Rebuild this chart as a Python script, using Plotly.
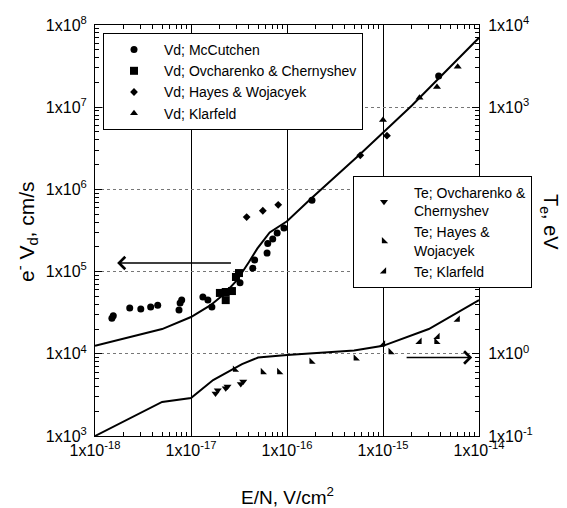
import numpy as np
import plotly.graph_objects as go

# ---------------- data ----------------
# Vd model curve (cm/s)
vd_line_x = [1e-18, 5e-18, 1e-17, 1.6e-17, 2.2e-17, 3e-17, 4e-17, 4.9e-17, 6.6e-17, 1e-16, 1.75e-16, 5.8e-16, 2e-15, 1e-14]
vd_line_y = [1.25e4, 2.0e4, 2.8e4, 3.9e4, 5.3e4, 7.8e4, 1.3e5, 1.9e5, 3.0e5, 4.1e5, 7.6e5, 2.7e6, 1.05e7, 7e7]
# Te model curve (eV)
te_line_x = [1e-18, 5e-18, 1e-17, 1.7e-17, 3.4e-17, 5e-17, 1e-16, 5e-16, 1e-15, 3e-15, 1e-14]
te_line_y = [0.1, 0.26, 0.29, 0.48, 0.75, 0.9, 0.97, 1.1, 1.25, 2.0, 4.5]

# Vd measurements
vd_mc_x = [1.5e-18, 1.55e-18, 2.3e-18, 3.0e-18, 3.8e-18, 4.5e-18, 7.5e-18, 7.7e-18, 8.0e-18,
           1.33e-17, 1.5e-17, 1.65e-17, 3.24e-17, 4.4e-17, 4.6e-17, 6.2e-17, 6.3e-17, 7.1e-17,
           7.9e-17, 9.3e-17, 1.82e-16, 3.8e-15]
vd_mc_y = [2.7e4, 2.9e4, 3.6e4, 3.5e4, 3.7e4, 3.9e4, 3.4e4, 4.15e4, 4.5e4,
           4.9e4, 4.5e4, 3.7e4, 7.3e4, 1.1e5, 1.38e5, 1.68e5, 2.2e5, 2.5e5,
           2.95e5, 3.4e5, 7.4e5, 2.4e7]
vd_ov_x = [2.0e-17, 2.3e-17, 2.3e-17, 2.67e-17, 2.94e-17, 3.16e-17]
vd_ov_y = [5.5e4, 5.65e4, 4.5e4, 5.8e4, 8.6e4, 9.6e4]
vd_hw_x = [3.8e-17, 5.6e-17, 8.1e-17, 5.8e-16, 1.1e-15]
vd_hw_y = [4.6e5, 5.5e5, 6.5e5, 2.6e6, 4.5e6]
vd_kl_x = [1.0e-15, 2.4e-15, 3.65e-15, 6.0e-15]
vd_kl_y = [7.0e6, 1.3e7, 1.76e7, 3.1e7]

# Te measurements
te_ov_x = [1.8e-17, 1.9e-17, 2.3e-17, 2.4e-17, 3.3e-17, 3.5e-17]
te_ov_y = [0.33, 0.36, 0.38, 0.40, 0.43, 0.46]
te_hw_x = [2.87e-17, 5.6e-17, 8.3e-17, 1.8e-16, 5.2e-16, 1.2e-15, 3.6e-15]
te_hw_y = [0.64, 0.60, 0.60, 0.80, 0.88, 1.05, 1.4]
te_kl_x = [1.0e-15, 2.4e-15, 3.7e-15, 6.0e-15]
te_kl_y = [1.3, 1.4, 1.6, 2.6]

x_tick_vals = [1e-18, 1e-17, 1e-16, 1e-15, 1e-14]
x_tick_text = ["1x10<sup>-18</sup>", "1x10<sup>-17</sup>", "1x10<sup>-16</sup>", "1x10<sup>-15</sup>", "1x10<sup>-14</sup>"]
y_tick_vals = [1e3, 1e4, 1e5, 1e6, 1e7, 1e8]
y_tick_text = ["1x10<sup>3</sup>", "1x10<sup>4</sup>", "1x10<sup>5</sup>", "1x10<sup>6</sup>", "1x10<sup>7</sup>", "1x10<sup>8</sup>"]
# right axis: the 1e1 and 1e2 labels are hidden behind the Te legend in the original
y2_tick_vals = [1e-1, 1e0, 1e1, 1e2, 1e3, 1e4]
y2_tick_text = ["1x10<sup>-1</sup>", "1x10<sup>0</sup>", "", "", "1x10<sup>3</sup>", "1x10<sup>4</sup>"]

# ---------------- figure ----------------
FONT = "Arial, Liberation Sans, sans-serif"
W, H = 567, 508
ML, MR, MT, MB = 95, 88, 25, 72
PW, PH = W - ML - MR, H - MT - MB

def px2paper(px, py):
    return (px - ML) / PW, (H - MB - py) / PH

fig = go.Figure()

fig.add_trace(go.Scatter(x=vd_line_x, y=vd_line_y, mode="lines", line=dict(color="black", width=2),
                         showlegend=False))
fig.add_trace(go.Scatter(x=te_line_x, y=te_line_y, mode="lines", line=dict(color="black", width=2),
                         showlegend=False, yaxis="y2"))

mk = dict(color="black")
fig.add_trace(go.Scatter(x=vd_mc_x, y=vd_mc_y, mode="markers", name="Vd; McCutchen",
                         marker=dict(symbol="circle", size=7, **mk), legend="legend"))
fig.add_trace(go.Scatter(x=vd_ov_x, y=vd_ov_y, mode="markers",
                         name="Vd; Ovcharenko &amp; Chernyshev",
                         marker=dict(symbol="square", size=8, **mk), legend="legend"))
fig.add_trace(go.Scatter(x=vd_hw_x, y=vd_hw_y, mode="markers", name="Vd; Hayes &amp; Wojacyek",
                         marker=dict(symbol="diamond", size=6, **mk), legend="legend"))
fig.add_trace(go.Scatter(x=vd_kl_x, y=vd_kl_y, mode="markers", name="Vd; Klarfeld",
                         marker=dict(symbol="triangle-up", size=7, **mk), legend="legend"))

fig.add_trace(go.Scatter(x=te_ov_x, y=te_ov_y, mode="markers",
                         name="Te; Ovcharenko &amp;<br>Chernyshev",
                         marker=dict(symbol="triangle-down", size=7, **mk), yaxis="y2", legend="legend2"))
fig.add_trace(go.Scatter(x=te_hw_x, y=te_hw_y, mode="markers", name="Te; Hayes &amp;<br>Wojacyek",
                         marker=dict(symbol="triangle-sw", size=7, **mk), yaxis="y2", legend="legend2"))
fig.add_trace(go.Scatter(x=te_kl_x, y=te_kl_y, mode="markers", name="Te; Klarfeld",
                         marker=dict(symbol="triangle-se", size=7, **mk), yaxis="y2", legend="legend2"))

def minor_vals(lo, hi):
    return [m * 10.0 ** e for e in range(lo, hi) for m in range(2, 10)]

tickfont = dict(family=FONT, size=16, color="black")

fig.update_layout(
    width=W, height=H,
    margin=dict(l=ML, r=MR, t=MT, b=MB, autoexpand=False),
    paper_bgcolor="white", plot_bgcolor="white",
    font=dict(family=FONT, color="black"),
    xaxis=dict(type="log", range=[-18, -14], tickmode="array", tickvals=x_tick_vals, ticktext=x_tick_text,
               tickfont=tickfont, ticks="inside", ticklen=7, tickcolor="black", showline=True,
               linecolor="black", linewidth=1, mirror="ticks", automargin=False,
               showgrid=True, gridcolor="black", gridwidth=1,
               minor=dict(tickmode="array", tickvals=minor_vals(-18, -14), ticks="inside", ticklen=4,
                          tickcolor="black", showgrid=False),
               zeroline=False),
    yaxis=dict(type="log", range=[3, 8], tickmode="array", tickvals=y_tick_vals, ticktext=y_tick_text,
               tickfont=tickfont, ticks="inside", ticklen=7, tickcolor="black", showline=True,
               linecolor="black", linewidth=1, ticklabelstandoff=4, automargin=False,
               showgrid=True, gridcolor="#777777", gridwidth=1, griddash="dot",
               minor=dict(tickmode="array", tickvals=minor_vals(3, 8), ticks="inside", ticklen=4,
                          tickcolor="black", showgrid=False),
               zeroline=False),
    yaxis2=dict(type="log", range=[-1, 4], overlaying="y", side="right", tickmode="array",
                tickvals=y2_tick_vals, ticktext=y2_tick_text, tickfont=tickfont,
                ticks="inside", ticklen=7, tickcolor="black", showline=True, linecolor="black",
                linewidth=1, showgrid=False, ticklabelstandoff=5, automargin=False,
                minor=dict(tickmode="array", tickvals=minor_vals(-1, 4), ticks="inside", ticklen=4,
                           tickcolor="black", showgrid=False),
                zeroline=False),
    legend=dict(x=px2paper(103, 33)[0], y=px2paper(103, 33)[1], xanchor="left", yanchor="top",
                bgcolor="white", bordercolor="black", borderwidth=1,
                font=dict(family=FONT, size=14, color="black"), tracegroupgap=0,
                itemwidth=50, itemsizing="trace"),
    legend2=dict(x=px2paper(353, 176)[0], y=px2paper(353, 176)[1], xanchor="left", yanchor="top",
                 bgcolor="white", bordercolor="black", borderwidth=1,
                 font=dict(family=FONT, size=14, color="black"), tracegroupgap=0,
                 itemwidth=50, itemsizing="trace"),
)

# arrows and titles
ann = []
ann.append(dict(x=np.log10(1.7e-18), y=np.log10(1.27e5), ax=np.log10(2.7e-17), ay=np.log10(1.27e5),
                xref="x", yref="y", axref="x", ayref="y", showarrow=True, arrowhead=4,
                arrowsize=1.6, arrowwidth=1.5, arrowcolor="black", text=""))
ann.append(dict(x=np.log10(8.5e-15), y=np.log10(0.9), ax=np.log10(1.7e-15), ay=np.log10(0.9),
                xref="x", yref="y2", axref="x", ayref="y2", showarrow=True, arrowhead=4,
                arrowsize=1.6, arrowwidth=1.5, arrowcolor="black", text=""))
tx, ty = px2paper(550, 222)
ann.append(dict(x=tx, y=ty, xref="paper", yref="paper", text="T<sub>e</sub>, eV", textangle=90,
                xanchor="center", yanchor="middle",
                showarrow=False, font=dict(family=FONT, size=20, color="black")))
lx, ly = px2paper(27, 232)
ann.append(dict(x=lx, y=ly, xref="paper", yref="paper", text="e<sup>-</sup> V<sub>d</sub>, cm/s",
                textangle=-90, xanchor="center", yanchor="middle",
                showarrow=False, font=dict(family=FONT, size=21, color="black")))
bx, by = px2paper(287, 496)
ann.append(dict(x=bx, y=by, xref="paper", yref="paper", text="E/N, V/cm<sup>2</sup>",
                xanchor="center", yanchor="middle",
                showarrow=False, font=dict(family=FONT, size=19, color="black")))
fig.update_layout(annotations=ann)

fig.write_html("out.html")
